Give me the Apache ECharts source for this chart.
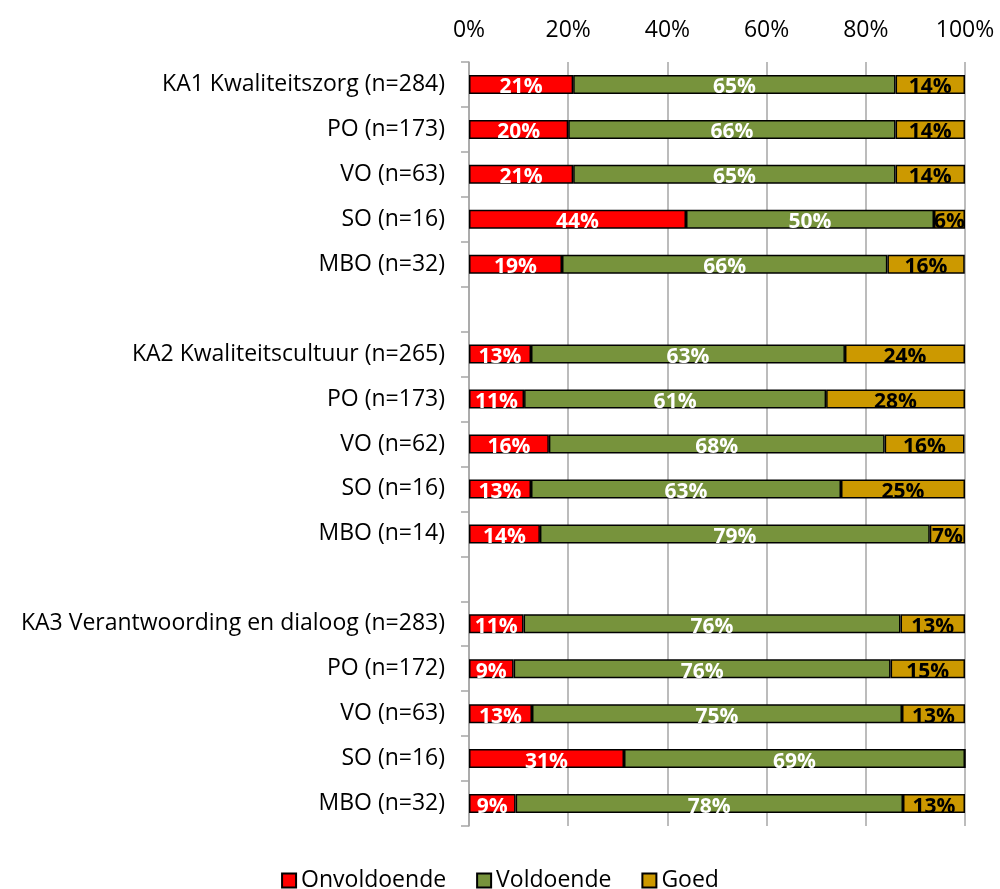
<!DOCTYPE html>
<html>
<head>
<meta charset="utf-8">
<script src="https://cdn.jsdelivr.net/npm/echarts@6/dist/echarts.min.js"></script>
<style>
  html, body { margin: 0; padding: 0; background: #fff; }
  #myChart { width: 1000px; height: 889px; }
</style>
</head>
<body>
<div id="myChart"></div>
<script>
  // rows, top to bottom ('' = empty spacer row)
  var categories = [
    'KA1 Kwaliteitszorg (n=284)', 'PO (n=173)', 'VO (n=63)', 'SO (n=16)', 'MBO (n=32)',
    '',
    'KA2 Kwaliteitscultuur (n=265)', 'PO (n=173)', 'VO (n=62)', 'SO (n=16)', 'MBO (n=14)',
    '',
    'KA3 Verantwoording en dialoog (n=283)', 'PO (n=172)', 'VO (n=63)', 'SO (n=16)', 'MBO (n=32)'
  ];
  var onvoldoende = [21, 20, 21, 43.75, 18.75, null, 12.5, 11.1, 16.1, 12.5, 14.3, null, 11, 9, 12.7, 31.25, 9.4];
  var voldoende   = [65, 66, 65, 50, 65.6, null, 63.3, 60.9, 67.7, 62.5, 78.6, null, 76, 76, 74.6, 68.75, 78.1];
  var goed        = [14, 14, 14, 6.25, 15.6, null, 24.2, 28, 16.1, 25, 7.1, null, 13, 15, 12.7, 0, 12.5];
  var xTicks = [0, 20, 40, 60, 80, 100];

  var font = 'Open Sans';

  function pct (p) {
    if (p.value == null || p.value === 0) return '';
    return Math.round(p.value) + '%';
  }

  function bar (name, data, color, textColor) {
    return {
      name: name,
      type: 'bar',
      stack: 'total',
      barWidth: 19,
      data: data,
      itemStyle: { color: color, borderColor: '#000', borderWidth: 1.5 },
      label: {
        show: true,
        position: 'inside',
        formatter: pct,
        color: textColor,
        fontFamily: font,
        fontWeight: 'bold',
        fontSize: 21,
        offset: [0, 3]
      },
      emphasis: { disabled: true }
    };
  }

  var myChart = echarts.init(document.getElementById('myChart'));
  myChart.setOption({
    animation: false,
    backgroundColor: '#fff',
    textStyle: { fontFamily: font },
    grid: { left: 469, right: 35, top: 62, bottom: 63, containLabel: false },
    legend: {
      top: 864,
      left: 'center',
      itemWidth: 14,
      itemHeight: 14,
      itemGap: 30,
      icon: 'rect',
      textStyle: { fontSize: 23, color: '#000', fontFamily: font },
      data: ['Onvoldoende', 'Voldoende', 'Goed']
    },
    xAxis: {
      type: 'value',
      position: 'top',
      min: 0,
      max: 100,
      interval: 20,
      axisLine: { show: false },
      axisTick: { show: false },
      axisLabel: {
        fontSize: 23,
        color: '#000',
        margin: 20,
        formatter: function (v) { return xTicks.indexOf(v) >= 0 ? v + '%' : ''; }
      },
      splitLine: { show: true, lineStyle: { color: '#a6a6a6', width: 1.5 } }
    },
    yAxis: {
      type: 'category',
      inverse: true,
      data: categories,
      axisLine: { show: true, lineStyle: { color: '#a6a6a6', width: 1.5 } },
      axisTick: { show: true, length: 8, lineStyle: { color: '#a6a6a6', width: 1.5 } },
      axisLabel: { fontSize: 23, color: '#000', margin: 24, interval: 0 }
    },
    series: [
      bar('Onvoldoende', onvoldoende, '#ff0000', '#fff'),
      bar('Voldoende', voldoende, '#77933c', '#fff'),
      bar('Goed', goed, '#cc9900', '#000')
    ]
  });
</script>
</body>
</html>
